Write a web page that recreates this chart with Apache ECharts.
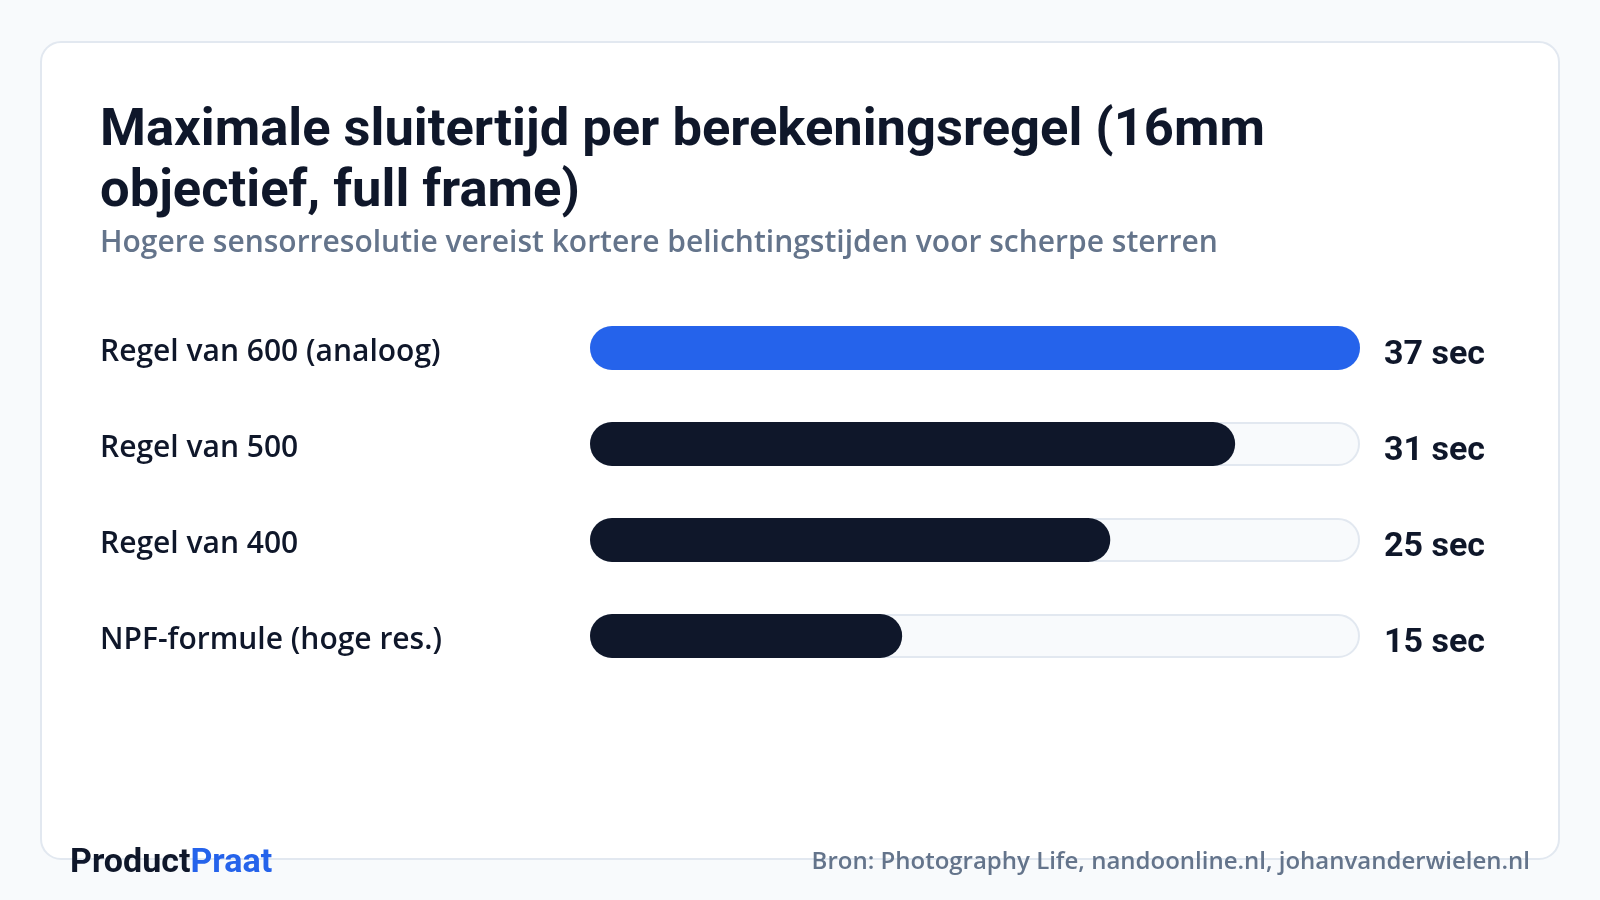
<!DOCTYPE html>
<html>
<head>
<meta charset="utf-8">
<script src="https://cdn.jsdelivr.net/npm/echarts@6/dist/echarts.min.js"></script>
<style>
  html, body { margin: 0; padding: 0; background: #f8fafc; }
  #main { width: 1600px; height: 900px; }
</style>
</head>
<body>
<div id="main"></div>
<script>
// data
var categories = ['Regel van 600 (analoog)', 'Regel van 500', 'Regel van 400', 'NPF-formule (hoge res.)'];
var seconds = [37, 31, 25, 15];
var maxSeconds = 37;
var barColors = ['#2563eb', '#0f172a', '#0f172a', '#0f172a'];

var myChart = echarts.init(document.getElementById('main'));

var trackData = categories.map(function (c, i) {
    return { value: maxSeconds, secs: seconds[i] };
});
var valueData = seconds.map(function (v, i) {
    return { value: v, itemStyle: { color: barColors[i] } };
});

option = {
    backgroundColor: '#f8fafc',
    graphic: [
        {
            type: 'rect',
            shape: { x: 41, y: 42, width: 1518, height: 817, r: 20 },
            style: { fill: '#ffffff', stroke: '#e2e8f0', lineWidth: 2 },
            z: -10
        }
    ],
    title: [
        {
            text: 'Maximale sluitertijd per berekeningsregel (16mm\nobjectief, full frame)',
            left: 100,
            top: 101,
            padding: 0,
            textStyle: {
                fontFamily: 'Roboto',
                fontWeight: 'bold',
                fontSize: 52.5,
                lineHeight: 61,
                color: '#0f172a'
            }
        },
        {
            text: 'Hogere sensorresolutie vereist kortere belichtingstijden voor scherpe sterren',
            left: 100,
            top: 228,
            padding: 0,
            textStyle: {
                fontFamily: 'Open Sans',
                fontWeight: 600,
                fontSize: 30,
                color: '#64748b'
            }
        },
        {
            text: '{a|Product}{b|Praat}',
            left: 70,
            top: 846,
            padding: 0,
            textStyle: {
                rich: {
                    a: { fontFamily: 'Roboto', fontWeight: 'bold', fontSize: 34, color: '#0f172a' },
                    b: { fontFamily: 'Roboto', fontWeight: 'bold', fontSize: 34, color: '#2563eb' }
                }
            }
        },
        {
            text: 'Bron: Photography Life, nandoonline.nl, johanvanderwielen.nl',
            right: 70,
            top: 850,
            padding: 0,
            textStyle: {
                fontFamily: 'Open Sans',
                fontWeight: 600,
                fontSize: 24,
                color: '#64748b'
            }
        }
    ],
    grid: {
        left: 590,
        right: 240,
        top: 300,
        bottom: 216,
        containLabel: false
    },
    xAxis: {
        type: 'value',
        min: 0,
        max: maxSeconds,
        show: false
    },
    yAxis: {
        type: 'category',
        data: categories,
        inverse: true,
        axisLine: { show: false },
        axisTick: { show: false },
        axisLabel: {
            align: 'left',
            margin: 490,
            formatter: function (v) { return '{l|' + v + '}'; },
            rich: {
                l: {
                    padding: [8, 0, 0, 0],
                    fontFamily: 'Open Sans',
                    fontWeight: 600,
                    fontSize: 30,
                    color: '#0f172a'
                }
            }
        }
    },
    series: [
        {
            name: 'track',
            type: 'bar',
            data: trackData,
            barWidth: 44,
            barGap: '-100%',
            silent: true,
            itemStyle: {
                color: '#f8fafc',
                borderColor: '#e2e8f0',
                borderWidth: 2,
                borderRadius: 22
            },
            label: {
                show: true,
                position: 'right',
                distance: 24,
                offset: [0, 7],
                formatter: function (p) { return p.data.secs + ' sec'; },
                fontFamily: 'Roboto',
                fontWeight: 'bold',
                fontSize: 34,
                color: '#0f172a'
            },
            z: 1
        },
        {
            name: 'seconden',
            type: 'bar',
            data: valueData,
            barWidth: 44,
            itemStyle: { borderRadius: 22 },
            z: 2
        }
    ]
};
myChart.setOption(option);
</script>
</body>
</html>
